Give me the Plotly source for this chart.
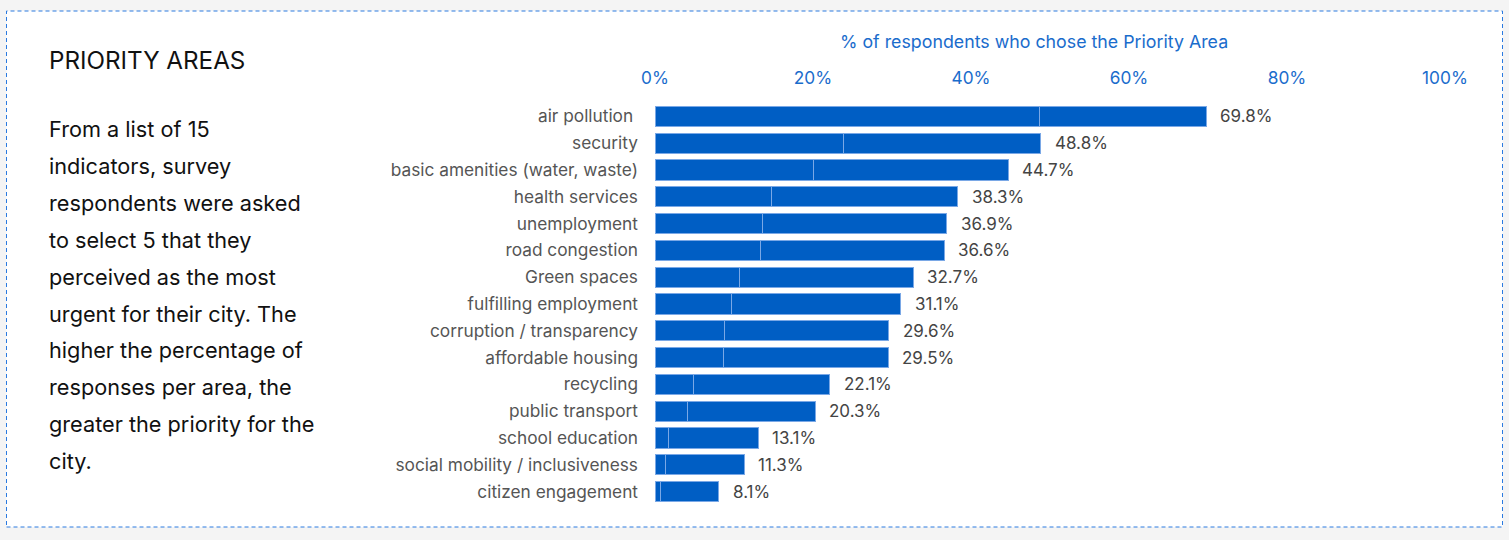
import plotly.graph_objects as go

categories = ["air pollution ", "security", "basic amenities (water, waste)", "health services",
              "unemployment", "road congestion", "Green spaces", "fulfilling employment",
              "corruption / transparency", "affordable housing", "recycling", "public transport",
              "school education", "social mobility / inclusiveness", "citizen engagement"]
values = [69.8, 48.8, 44.7, 38.3, 36.9, 36.6, 32.7, 31.1, 29.6, 29.5, 22.1, 20.3, 13.1, 11.3, 8.1]
# position of the thin inner divider seen inside each bar (% units)
dividers = [48.7, 23.8, 20.0, 14.7, 13.6, 13.4, 10.7, 9.7, 8.8, 8.7, 4.9, 4.1, 1.7, 1.3, 0.7]
x_ticks = [0, 20, 40, 60, 80, 100]
x_tick_labels = ["0%", "20%", "40%", "60%", "80%", "100%"]

title_text = "PRIORITY AREAS"
para_lines = ["From a list of 15", "indicators, survey", "respondents were asked",
              "to select 5 that they", "perceived as the most", "urgent for their city. The",
              "higher the percentage of", "responses per area, the",
              "greater the priority for the", "city."]
axis_title = "% of respondents who chose the Priority Area"

BAR = "#005ec4"
EDGE = "#7aa8e6"
BLUE_TXT = "#1a6ccc"
FONT = "Inter, Roboto, sans-serif"

W, H = 1509, 540
L, R, T, B = 655, 64, 103, 35
pw, ph = W - L - R, H - T - B

def px2x(px):
    return (px - L) / pw

def py2y(py):
    return (H - B - py) / ph

fig = go.Figure()
fig.add_trace(go.Bar(y=categories, x=dividers, orientation="h",
                     marker=dict(color=BAR, line=dict(color=EDGE, width=1)),
                     hoverinfo="skip", showlegend=False))
fig.add_trace(go.Bar(y=categories, x=[v - d for v, d in zip(values, dividers)], orientation="h",
                     marker=dict(color=BAR, line=dict(color=EDGE, width=1)),
                     hoverinfo="skip", showlegend=False))

for c, v in zip(categories, values):
    fig.add_annotation(x=v, y=c, xref="x", yref="y", text=f"{v:.1f}%", showarrow=False,
                       xanchor="left", xshift=12,
                       font=dict(family=FONT, size=17, color="#444444"))

# container box
fig.add_shape(type="rect", xref="paper", yref="paper",
              x0=px2x(6.5), x1=px2x(1502.5), y0=py2y(527.0), y1=py2y(11.0),
              fillcolor="white", line=dict(color="#2a7ae0", width=1, dash="4px,3px"), layer="below")

fig.add_annotation(xref="paper", yref="paper", x=px2x(47), y=py2y(61), text=title_text,
                   showarrow=False, xanchor="left", yanchor="middle",
                   font=dict(family=FONT, size=24.2, color="#111111"))
for i, line in enumerate(para_lines):
    fig.add_annotation(xref="paper", yref="paper", x=px2x(47), y=py2y(129 + i * 36.9), text=line,
                       showarrow=False, xanchor="left", yanchor="middle",
                       font=dict(family=FONT, size=21.7, color="#111111"))

fig.add_annotation(xref="paper", yref="paper", x=px2x(1034), y=py2y(42), text=axis_title,
                   showarrow=False, xanchor="center", yanchor="middle",
                   font=dict(family=FONT, size=17.8, color=BLUE_TXT))

fig.update_layout(
    width=W, height=H, barmode="stack", bargap=0.25,
    margin=dict(l=L, r=R, t=T, b=B, autoexpand=False),
    paper_bgcolor="#f4f4f4", plot_bgcolor="white",
    xaxis=dict(side="top", range=[0, 100], tickmode="array", tickvals=x_ticks,
               ticktext=x_tick_labels,
               showgrid=False, zeroline=False, showline=False, ticks="",
               ticklabelstandoff=15,
               tickfont=dict(family=FONT, size=17.3, color=BLUE_TXT)),
    yaxis=dict(autorange="reversed", showgrid=False, zeroline=False, showline=False, ticks="",
               ticklabelstandoff=16,
               tickfont=dict(family=FONT, size=17.3, color="#555555")),
)

fig.write_html("out.html", config={"displayModeBar": False},
               post_script="document.body.style.margin='0';document.body.style.background='#f4f4f4';")
